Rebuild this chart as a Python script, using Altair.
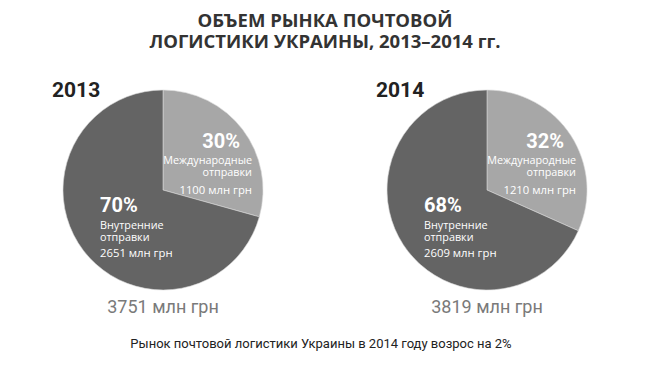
import altair as alt
import pandas as pd

# ---- data ----
years = ["2013", "2014"]
intl_mln = [1100, 1210]
domestic_mln = [2651, 2609]
intl_pct = ["30%", "32%"]
domestic_pct = ["70%", "68%"]
totals_mln = [3751, 3819]
intl_name = ["Международные", "отправки"]
domestic_name = ["Внутренние", "отправки"]
unit = "млн грн"
title_lines = ["ОБЪЕМ РЫНКА ПОЧТОВОЙ", "ЛОГИСТИКИ УКРАИНЫ, 2013–2014 гг."]
caption = "Рынок почтовой логистики Украины в 2014 году возрос на 2%"

# ---- tables ----
slices = pd.DataFrame(
    [{"year": y, "cat": "intl", "order": 0, "value": v} for y, v in zip(years, intl_mln)]
    + [{"year": y, "cat": "dom", "order": 1, "value": v} for y, v in zip(years, domestic_mln)]
)
labels = pd.DataFrame({
    "year": years,
    "intl_pct": intl_pct,
    "intl_name": ["\n".join(intl_name)] * len(years),
    "intl_amt": [f"{v} {unit}" for v in intl_mln],
    "dom_pct": domestic_pct,
    "dom_name": ["\n".join(domestic_name)] * len(years),
    "dom_amt": [f"{v} {unit}" for v in domestic_mln],
    "total": [f"{v} {unit}" for v in totals_mln],
})
cap_df = pd.DataFrame({"caption": [caption]})

W, H = 634, 289
CY = 122  # pie centre, in plot coords
NARROW = "Roboto, Liberation Sans, sans-serif"
OPEN = "Open Sans, sans-serif"

x_enc = alt.X("year:N", scale=alt.Scale(type="point", domain=years, padding=0.4784), axis=None)

arcs = alt.Chart(slices).transform_joinaggregate(
    total="sum(value)", groupby=["year"]
).transform_window(
    cum="sum(value)", groupby=["year"], sort=[alt.SortField("order")]
).transform_calculate(
    start="(datum.cum - datum.value) / datum.total",
    end="datum.cum / datum.total",
).mark_arc(outerRadius=100, stroke="#d8d8d8", strokeWidth=0.6).encode(
    x=x_enc,
    y=alt.value(CY),
    theta=alt.Theta("start:Q", stack=None,
                    scale=alt.Scale(domain=[0, 1], range=[0, 6.283185307179586])),
    theta2="end:Q",
    color=alt.Color("cat:N", scale=alt.Scale(domain=["intl", "dom"], range=["#a7a7a7", "#646464"]),
                    legend=None),
)


def txt(field, align, dx, dy, size, font, weight="normal", color="white", data=labels, lh=None):
    kw = {}
    if lh is not None:
        kw = {"lineBreak": "\n", "lineHeight": lh}
    return alt.Chart(data).mark_text(
        align=align, baseline="alphabetic", dx=dx, dy=dy, fontSize=size,
        font=font, fontWeight=weight, color=color, **kw
    ).encode(x=x_enc, y=alt.value(CY), text=f"{field}:N")


year_lbl = txt("year", "left", -111, -93, 21, NARROW, "bold", "#222222")
i_pct = txt("intl_pct", "right", 77, -42, 20, NARROW, "bold")
i_name = txt("intl_name", "right", 89, -26, 10.8, OPEN, lh=12)
i_amt = txt("intl_amt", "right", 89, 4, 11.3, OPEN)
d_pct = txt("dom_pct", "left", -63, 22, 20, NARROW, "bold")
d_name = txt("dom_name", "left", -63, 39, 10.8, OPEN, lh=12)
d_amt = txt("dom_amt", "left", -63, 67, 11.3, OPEN)
tot = txt("total", "center", 0, 123, 18, NARROW, "normal", "#7a7a7a")

cap = alt.Chart(cap_df).mark_text(
    align="center", baseline="alphabetic", fontSize=13, font=NARROW, color="#222222"
).encode(x=alt.value(313), y=alt.value(280), text="caption:N")

chart = alt.layer(arcs, year_lbl, i_pct, i_name, i_amt, d_pct, d_name, d_amt, tot, cap).properties(
    width=W, height=H,
    title=alt.TitleParams(text=title_lines, font=OPEN, fontSize=18.5, fontWeight="bold",
                          color="#333333", lineHeight=21, anchor="middle", frame="group",
                          baseline="bottom", offset=-2),
    padding={"left": 0, "top": 60, "right": 0, "bottom": 0},
    autosize=alt.AutoSizeParams(type="none"),
).configure_view(stroke=None)

chart.save("out.html", embed_options={"renderer": "svg", "actions": False})
